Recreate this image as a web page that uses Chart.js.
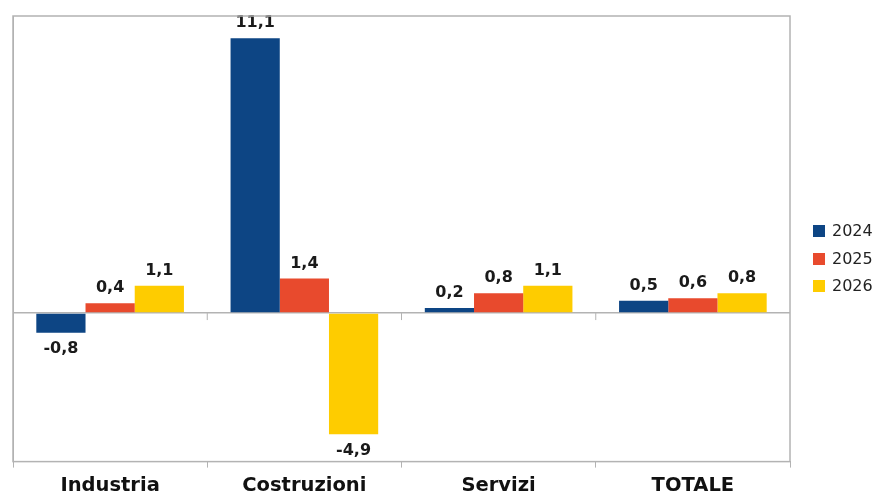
<!DOCTYPE html>
<html>
<head>
<meta charset="utf-8">
<script src="https://cdn.jsdelivr.net/npm/chart.js@4"></script>
<style>
  body { margin: 0; background: #fff; }
  #wrap { position: relative; width: 873px; height: 497px; overflow: hidden; }
  #legenda { position: absolute; left: 813px; top: 217px; font-family: "DejaVu Sans", sans-serif; font-size: 16px; color: #222; }
  #legenda div { height: 27.5px; line-height: 27.5px; white-space: nowrap; }
  #legenda span { display: inline-block; width: 12px; height: 12px; margin-right: 7px; vertical-align: -1px; }
</style>
</head>
<body>
<div id="wrap">
  <canvas id="chartSettori" width="873" height="497"></canvas>
  <div id="legenda"></div>
</div>
<script>
// dati (variazioni %)
const settori = ["Industria", "Costruzioni", "Servizi", "TOTALE"];
const anni = ["2024", "2025", "2026"];
const valori2024 = [-0.8, 11.1, 0.2, 0.5];
const valori2025 = [0.4, 1.4, 0.8, 0.6];
const valori2026 = [1.1, -4.9, 1.1, 0.8];
const colori = ["#0d4584", "#e84a2d", "#fecc00"];

const grigio = "#b3b3b3";

// etichette sopra/sotto le barre, con la virgola decimale
const etichetteBarre = {
  id: "etichetteBarre",
  afterDatasetsDraw(chart) {
    const ctx = chart.ctx;
    ctx.save();
    ctx.font = "bold 16px 'DejaVu Sans', sans-serif";
    ctx.fillStyle = "#1a1a1a";
    ctx.textAlign = "center";
    ctx.textBaseline = "middle";
    chart.data.datasets.forEach((ds, i) => {
      chart.getDatasetMeta(i).data.forEach((bar, j) => {
        const v = ds.data[j];
        const testo = v.toFixed(1).replace(".", ",");
        const y = v >= 0 ? bar.y - 15 : bar.y + 16;
        ctx.fillText(testo, bar.x, y);
      });
    });
    ctx.restore();
  },
};

// cornice dell'area e tacche sulla linea dello zero
const cornice = {
  id: "cornice",
  afterDraw(chart) {
    const { ctx, chartArea } = chart;
    const x = chart.scales.x;
    const y0 = chart.scales.y.getPixelForValue(0);
    ctx.save();
    ctx.strokeStyle = grigio;
    ctx.lineWidth = 1.5;
    ctx.strokeRect(chartArea.left, chartArea.top, chartArea.right - chartArea.left, chartArea.bottom - chartArea.top);
    ctx.lineWidth = 1;
    for (let i = 1; i < settori.length; i++) {
      const px = (x.getPixelForValue(i - 1) + x.getPixelForValue(i)) / 2;
      ctx.beginPath();
      ctx.moveTo(px, y0);
      ctx.lineTo(px, y0 + 7);
      ctx.stroke();
    }
    ctx.restore();
  },
};

const ctxSettori = document.getElementById("chartSettori").getContext("2d");

const chartSettori = new Chart(ctxSettori, {
  type: "bar",
  data: {
    labels: settori,
    datasets: [
      { label: anni[0], data: valori2024, backgroundColor: colori[0] },
      { label: anni[1], data: valori2025, backgroundColor: colori[1] },
      { label: anni[2], data: valori2026, backgroundColor: colori[2] },
    ],
  },
  options: {
    responsive: false,
    animation: false,
    layout: { padding: { left: 13, top: 16, right: 83, bottom: -8 } },
    datasets: { bar: { categoryPercentage: 0.76, barPercentage: 1 } },
    plugins: {
      legend: { display: false },
      tooltip: { enabled: false },
    },
    scales: {
      x: {
        grid: {
          offset: true,
          drawOnChartArea: false,
          color: grigio,
          tickLength: 6,
        },
        border: { color: grigio },
        ticks: {
          color: "#111",
          padding: 7,
          font: { family: "'DejaVu Sans', sans-serif", size: 19.5, weight: "bold" },
        },
      },
      y: {
        min: -6,
        max: 12,
        ticks: { display: false, stepSize: 2 },
        grid: {
          drawTicks: false,
          color: (c) => (c.tick && c.tick.value === 0 ? grigio : "transparent"),
          lineWidth: 1.5,
        },
        border: { color: grigio },
        afterFit: (scale) => { scale.width = 0; },
      },
    },
  },
  plugins: [etichetteBarre, cornice],
});

// legenda a destra
const legenda = document.getElementById("legenda");
anni.forEach((anno, i) => {
  const riga = document.createElement("div");
  riga.innerHTML = `<span style="background:${colori[i]}"></span>${anno}`;
  legenda.appendChild(riga);
});
</script>
</body>
</html>
